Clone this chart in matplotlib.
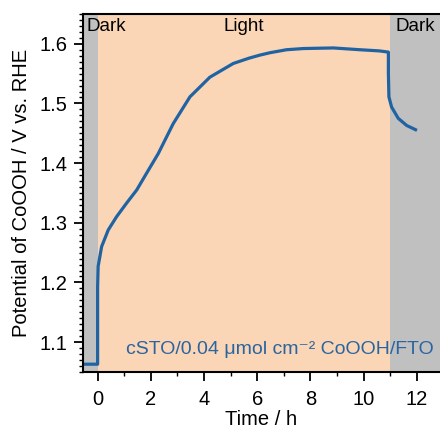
import matplotlib
matplotlib.use('Agg')
import matplotlib.pyplot as plt
from matplotlib.ticker import MultipleLocator

plt.rcParams['font.family'] = ['Liberation Sans', 'DejaVu Sans']

# potential trace (time in h, potential in V vs RHE)
time_h = [-0.55, -0.3, 0.0, 0.0, 0.0, 0.02, 0.15, 0.40, 0.71, 1.09, 1.47,
          1.84, 2.28, 2.84, 3.47, 4.22, 5.10, 5.70, 6.10, 6.48, 7.10, 7.73,
          8.86, 9.86, 10.24, 10.6, 10.93, 10.93, 10.95, 11.05, 11.30, 11.62,
          11.95]
potential = [1.063, 1.063, 1.063, 1.15, 1.193, 1.227, 1.260, 1.288, 1.310,
             1.333, 1.355, 1.383, 1.416, 1.466, 1.511, 1.544, 1.567, 1.576,
             1.581, 1.585, 1.590, 1.592, 1.593, 1.590, 1.589, 1.588, 1.586,
             1.550, 1.511, 1.494, 1.475, 1.463, 1.456]

light_on = 0
light_off = 11
x_min, x_max = -0.55, 12.87
y_min, y_max = 1.05, 1.65

fig = plt.figure(figsize=(4.4, 4.3), dpi=100)
ax = fig.add_axes([0.1886, 0.135, 0.8114, 0.8326])

ax.axvspan(x_min, light_on, color='#c0c0c0', lw=0)
ax.axvspan(light_on, light_off, color='#fad5b6', lw=0)
ax.axvspan(light_off, x_max, color='#c0c0c0', lw=0)

ax.plot(time_h, potential, color='#1f63a3', lw=2.3, solid_joinstyle='round')

ax.set_xlim(x_min, x_max)
ax.set_ylim(y_min, y_max)
ax.xaxis.set_major_locator(MultipleLocator(2))
ax.xaxis.set_minor_locator(MultipleLocator(1))
ax.yaxis.set_major_locator(MultipleLocator(0.1))
ax.yaxis.set_minor_locator(MultipleLocator(0.01))
ax.tick_params(which='major', direction='out', length=6.5, width=1.3, labelsize=14.5)
ax.tick_params(which='minor', direction='out', length=3, width=1.0)
ax.tick_params(axis='x', which='major', pad=6.5)
ax.tick_params(axis='y', which='major', pad=5)
ax.spines['right'].set_visible(False)
for s in ['left', 'bottom', 'top']:
    ax.spines[s].set_linewidth(1.5)

ax.set_xlabel('Time / h', fontsize=14.5, labelpad=1)
ax.set_ylabel('Potential of CoOOH / V vs. RHE', fontsize=14.5, labelpad=6)

ax.text(-0.4, 1.643, 'Dark', fontsize=13.5, va='top', ha='left')
ax.text(5.5, 1.643, 'Light', fontsize=13.5, va='top', ha='center')
ax.text(11.18, 1.643, 'Dark', fontsize=13.5, va='top', ha='left')
ax.text(12.62, 1.0795, 'cSTO/0.04 μmol cm⁻² CoOOH/FTO', fontsize=14,
        color='#2a65a0', va='baseline', ha='right')

fig.savefig('out.png', dpi=100)
